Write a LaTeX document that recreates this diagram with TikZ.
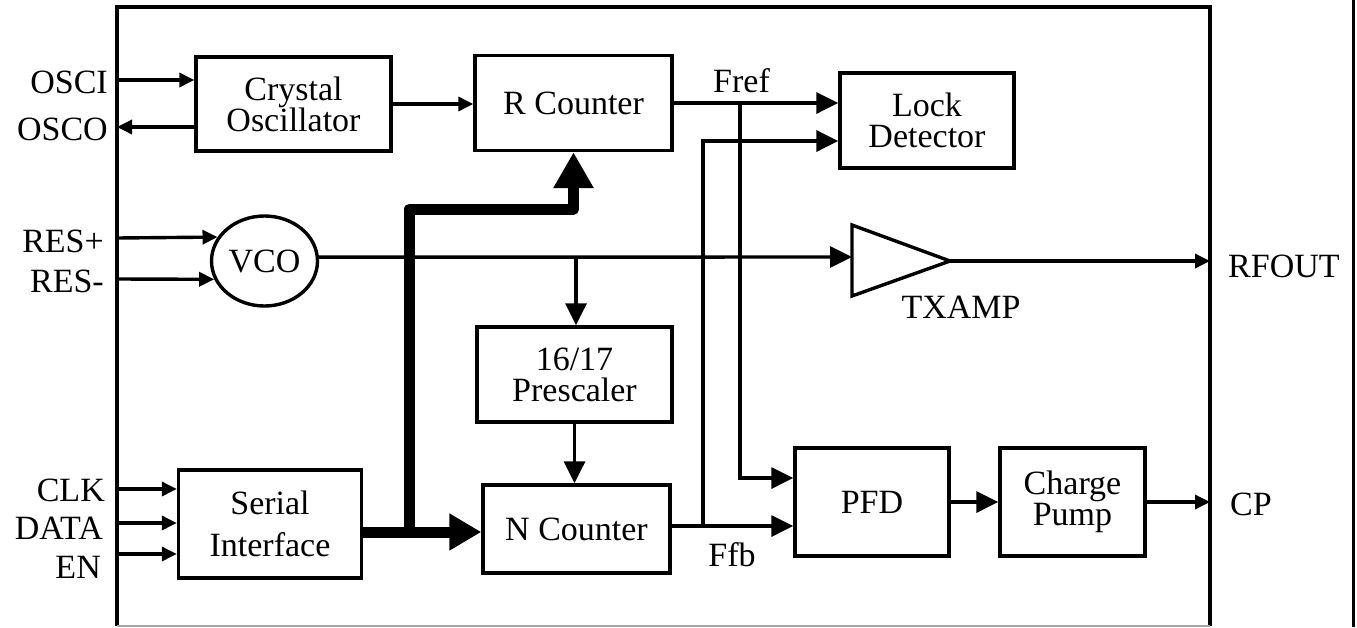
\documentclass[tikz,border=0pt]{standalone}
\usepackage{fontspec}
\setmainfont{Liberation Serif}
\usetikzlibrary{arrows.meta,calc,shapes.geometric}
\begin{document}
\begin{tikzpicture}[x=1pt,y=-1pt,
  box/.style={draw,line width=3.4pt,inner sep=0pt,align=center,font=\fontsize{34}{31}\selectfont},
  lbl/.style={inner sep=0pt,font=\fontsize{34}{31}\selectfont},
  wire/.style={line width=3.4pt},
  arrs/.style={wire,-{Triangle[length=15pt,width=14pt]}},
  arrl/.style={wire,-{Triangle[length=22pt,width=21pt]}},
  bus/.style={line width=11pt,line join=round}]
\useasboundingbox (0,0) rectangle (1357,627);
% outer frame
\draw[line width=3.4pt] (117,626) -- (117,7) -- (1210,7) -- (1210,626);
\draw[line width=2pt,gray!70] (117,626) -- (1210,626);
\draw[line width=3pt] (1353.5,0) -- (1353.5,627);
% blocks
\node[box,minimum width=195pt,minimum height=94pt] (xtal) at (293.5,104) {Crystal\\Oscillator};
\node[box,minimum width=197pt,minimum height=95pt] (rc) at (573.5,103) {R Counter};
\node[box,minimum width=174pt,minimum height=95pt] (ld) at (927,120.5) {Lock\\Detector};
\node[draw,ellipse,line width=3.4pt,minimum width=106pt,minimum height=90pt,inner sep=0pt,font=\fontsize{34}{31}\selectfont] (vco) at (264.5,261) {VCO};
\node[box,minimum width=195pt,minimum height=95pt] (ps) at (574.5,374.5) {16/17\\Prescaler};
\node[box,minimum width=187pt,minimum height=88pt] (nc) at (576.5,529) {N Counter};
\node[box,minimum width=183pt,minimum height=108pt] (si) at (270,524) {Serial\\[11pt]Interface};
\node[box,minimum width=154pt,minimum height=108pt] (pfd) at (872,502) {PFD};
\node[box,minimum width=145pt,minimum height=108pt] (cpb) at (1072.5,502) {Charge\\Pump};
% amplifier
\coordinate (ampin) at (852,257);
\coordinate (ampout) at (950,261);
\draw[line width=3.4pt,line join=miter] (852,225) -- (ampout) -- (852,296) -- cycle;
\node[lbl] (txamp) at (961,307.5) {TXAMP};
% pin labels
\node[lbl,anchor=east] (osci) at (108,82.5) {OSCI};
\node[lbl,anchor=east] (osco) at (108,129.5) {OSCO};
\node[lbl,anchor=east] (resp) at (104,241.5) {RES+};
\node[lbl,anchor=east] (resm) at (104,281.5) {RES-};
\node[lbl,anchor=east] (clk) at (105,490) {CLK};
\node[lbl,anchor=east] (data) at (103,528) {DATA};
\node[lbl,anchor=east] (en) at (101,567) {EN};
\node[lbl,anchor=west] (rfout) at (1228,266) {RFOUT};
\node[lbl,anchor=west] (cp) at (1230,504) {CP};
\node[lbl] (fref) at (741.5,81) {Fref};
\node[lbl] (ffb) at (732,555) {Ffb};
% pin coordinates on the frame
\coordinate (poscI) at (117,80);
\coordinate (poscO) at (117,127);
\coordinate (presp) at (117,238);
\coordinate (presm) at (117,279);
\coordinate (pclk) at (117,489);
\coordinate (pdata) at (117,523);
\coordinate (pen) at (117,554);
\coordinate (prf) at (1210,261);
\coordinate (pcp) at (1210,502);
% junctions
\coordinate (fj) at (740,103);
\coordinate (bj) at (703,526);
\coordinate (pj) at (576,257);
\coordinate (busb) at (409.5,532);
\coordinate (bust) at (409.5,209);
% connectors
\draw[arrs] (poscI) -- (poscI -| xtal.west);
\draw[arrs] (poscO -| xtal.west) -- (poscO);
\draw[arrs] (xtal.east) -- (xtal.east -| rc.west);
\draw[arrl] (rc.east) -- (rc.east -| ld.west);
\draw[arrl] (bj) |- ([yshift=-20.5pt]ld.west);
\draw[arrl] (fj) |- ([yshift=24pt]pfd.west);
\draw[arrl] (nc.east |- bj) -- (bj) -- ([yshift=-24pt]pfd.west);
\draw[arrs] (presp) -- (vco.153);
\draw[arrs] (presm) -- (vco.200);
\draw[arrl] (vco.4) -- (ampin);
\draw[arrl] (pj) -- (pj |- ps.north);
\draw[arrl] (ps.south) -- (ps.south |- nc.north);
\draw[arrs] (ampout) -- (prf);
\draw[arrl] (pfd.east) -- (cpb.west);
\draw[arrs] (cpb.east) -- (pcp);
\draw[arrs] (pclk) -- (pclk -| si.west);
\draw[arrs] (pdata) -- (pdata -| si.west);
\draw[arrs] (pen) -- (pen -| si.west);
% bus
\draw[bus,-{Triangle[length=32pt,width=35pt]}] (si.east |- busb) -- (nc.west |- busb);
\draw[bus,-{Triangle[length=36pt,width=38pt]}] (busb) -- (bust) -| (rc.south);
\end{tikzpicture}
\end{document}
